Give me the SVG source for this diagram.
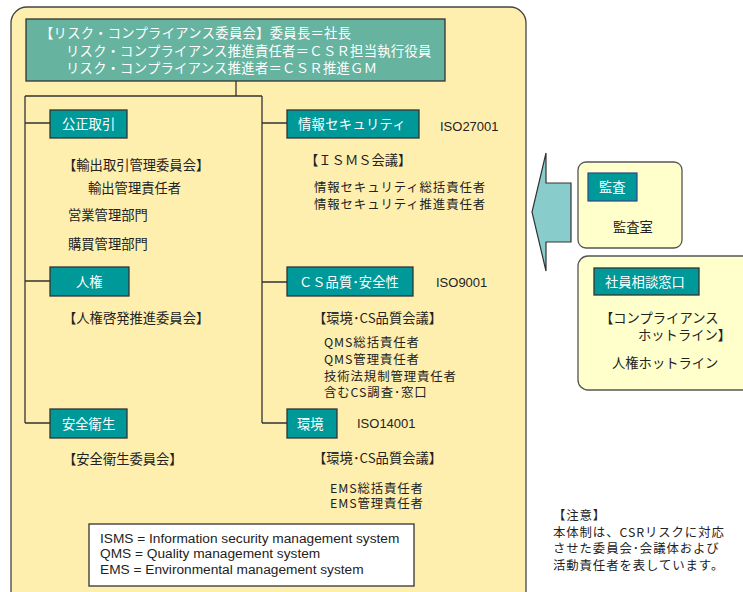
<svg xmlns="http://www.w3.org/2000/svg" width="743" height="592" viewBox="0 0 743 592">
<style>
text{font-family:"Noto Sans CJK JP","Liberation Sans",sans-serif;font-size:13.3px;fill:#222}
.w{fill:#fff}
.lat{font-family:"Liberation Sans",Arial,sans-serif;font-size:13px}
.leg{font-family:"Liberation Sans",Arial,sans-serif;font-size:13.7px}
.st{font-size:12.4px;letter-spacing:0.9px}
.tl{fill:#009999;stroke:#333;stroke-width:1.3}
.ln{fill:none;stroke:#333;stroke-width:1.3}
.pale{fill:#FFFFCC;stroke:#555;stroke-width:1.3}
</style>
<rect x="11" y="7" width="515" height="600" rx="16" fill="#FFEFAF" stroke="#444" stroke-width="1.3"/>

<g id="connectors">
<path class="ln" d="M236 81V96M25 96H262M25 96V423M262 96V423M25 123H50M25 281H50M25 423H50M262 123H287M262 282H287M262 423H287"/>
</g>

<g id="committee">
<rect x="26" y="19" width="419" height="62" fill="#66B3A0" stroke="#333" stroke-width="1.3"/>
<text class="w" x="40" y="38" style="font-size:13.3px;letter-spacing:0.3px">【リスク・コンプライアンス委員会】委員長＝社長</text>
<text class="w" x="66" y="56" style="font-size:13.3px;letter-spacing:0.3px">リスク・コンプライアンス推進責任者＝ＣＳＲ担当執行役員</text>
<text class="w" x="66" y="73" style="font-size:13.3px;letter-spacing:0.3px">リスク・コンプライアンス推進者＝ＣＳＲ推進ＧＭ</text>
</g>

<g id="fair-trade">
<rect class="tl" x="50" y="110" width="77" height="28"/>
<text class="w" x="62" y="129">公正取引</text>
<text x="63" y="170">【輸出取引管理委員会】</text>
<text x="88" y="193">輸出管理責任者</text>
<text x="68" y="220">営業管理部門</text>
<text x="68" y="249">購買管理部門</text>
</g>

<g id="human-rights">
<rect class="tl" x="50" y="267" width="79" height="29"/>
<text class="w" x="76" y="287">人権</text>
<text x="63" y="323">【人権啓発推進委員会】</text>
</g>

<g id="safety">
<rect class="tl" x="50" y="409" width="77" height="29"/>
<text class="w" x="62" y="429">安全衛生</text>
<text x="63" y="464">【安全衛生委員会】</text>
</g>

<g id="info-security">
<rect class="tl" x="287" y="110" width="132" height="28"/>
<text class="w" x="298" y="129" style="letter-spacing:0.3px">情報セキュリティ</text>
<text class="lat" x="440" y="131">ISO27001</text>
<text x="305" y="165">【ＩＳＭＳ会議】</text>
<text class="st" x="314" y="192">情報セキュリティ総括責任者</text>
<text class="st" x="314" y="209">情報セキュリティ推進責任者</text>
</g>

<g id="cs-quality">
<rect class="tl" x="287" y="267" width="126" height="29"/>
<text class="w" x="299" y="287">ＣＳ品質･安全性</text>
<text class="lat" x="436" y="287">ISO9001</text>
<text x="313" y="323">【環境･CS品質会議】</text>
<text class="st" x="324" y="347">QMS総括責任者</text>
<text class="st" x="324" y="364">QMS管理責任者</text>
<text class="st" x="324" y="381">技術法規制管理責任者</text>
<text class="st" x="324" y="397">含むCS調査･窓口</text>
</g>

<g id="environment">
<rect class="tl" x="287" y="409" width="50" height="29"/>
<text class="w" x="297" y="429">環境</text>
<text class="lat" x="357" y="428">ISO14001</text>
<text x="313" y="463">【環境･CS品質会議】</text>
<text class="st" x="330" y="493">EMS総括責任者</text>
<text class="st" x="330" y="508">EMS管理責任者</text>
</g>

<g id="legend">
<rect x="89" y="524" width="325" height="62" fill="#fff" stroke="#333" stroke-width="1.3"/>
<text class="leg" x="100" y="543">ISMS = Information security management system</text>
<text class="leg" x="100" y="558">QMS = Quality management system</text>
<text class="leg" x="100" y="574">EMS = Environmental management system</text>
</g>

<g id="arrow">
<path d="M546 153L532 212L546 271V242H571V183H546Z" fill="#88CCCC" stroke="#333" stroke-width="1.2"/>
</g>

<g id="audit">
<rect class="pale" x="578" y="162" width="104" height="86" rx="8"/>
<rect x="588" y="173" width="49" height="28" fill="#009999" stroke="#334488" stroke-width="1.2"/>
<text class="w" x="599" y="192">監査</text>
<text x="613" y="232">監査室</text>
</g>

<g id="hotline">
<rect class="pale" x="578" y="256" width="180" height="134" rx="10"/>
<rect class="tl" x="594" y="268" width="105" height="27"/>
<text class="w" x="605" y="287">社員相談窓口</text>
<text x="600" y="323">【コンプライアンス</text>
<text x="638" y="340">ホットライン】</text>
<text x="612" y="368">人権ホットライン</text>
</g>

<g id="note">
<text class="st" x="553" y="520">【注意】</text>
<text class="st" x="553" y="537">本体制は、CSRリスクに対応</text>
<text class="st" x="553" y="553">させた委員会･会議体および</text>
<text class="st" x="553" y="570">活動責任者を表しています。</text>
</g>
</svg>
